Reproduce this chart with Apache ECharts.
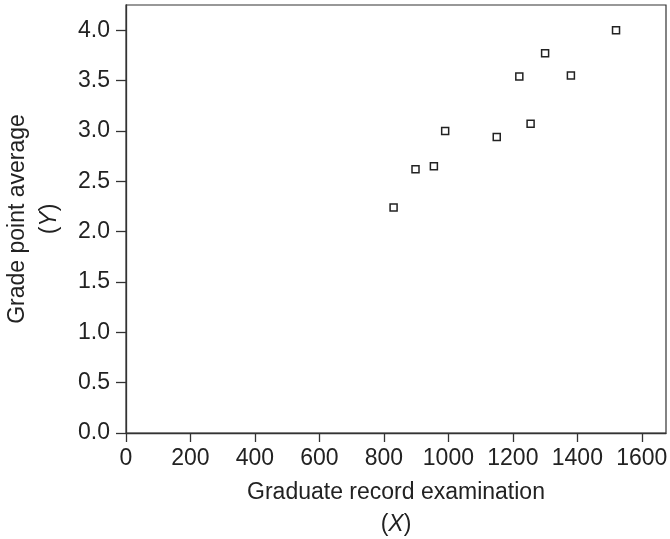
<!DOCTYPE html>
<html>
<head>
<meta charset="utf-8">
<title>GRE vs GPA</title>
<script src="https://cdn.jsdelivr.net/npm/echarts@6/dist/echarts.min.js"></script>
<style>
  html, body { margin: 0; padding: 0; background: #fff; }
  #chart { width: 670px; height: 539px; }
</style>
</head>
<body>
<div id="chart"></div>
<script>
// Graduate record examination scores (X) and grade point averages (Y)
const greScores = [830, 898, 955, 990, 1150, 1220, 1255, 1300, 1380, 1520];
const gpaValues = [2.24, 2.62, 2.65, 3.00, 2.94, 3.54, 3.07, 3.77, 3.55, 4.00];

// Axis tick positions
const xTicks = [0, 200, 400, 600, 800, 1000, 1200, 1400, 1600];
const yTicks = [0.0, 0.5, 1.0, 1.5, 2.0, 2.5, 3.0, 3.5, 4.0];

const FONT = "'Liberation Sans', Arial, Helvetica, sans-serif";
const INK = '#222';
const LINE = '#333';

const points = greScores.map((x, i) => [x, gpaValues[i]]);

const chart = echarts.init(document.getElementById('chart'), null, { renderer: 'canvas' });

chart.setOption({
  animation: false,
  backgroundColor: '#fff',
  grid: {
    left: 126, right: 4, top: 5, bottom: 106,
    show: true,
    borderColor: LINE,
    borderWidth: 1.2,
    outerBoundsMode: 'none',
    containLabel: false
  },
  xAxis: {
    type: 'value',
    min: 0,
    max: 1675,
    splitLine: { show: false },
    axisLine: { show: true, onZero: false, lineStyle: { color: LINE, width: 1.3 } },
    axisTick: {
      show: true, inside: false, length: 9,
      customValues: xTicks,
      lineStyle: { color: LINE, width: 1.3 }
    },
    axisLabel: {
      customValues: xTicks,
      formatter: v => String(v),
      margin: 14,
      color: INK,
      fontSize: 23,
      fontFamily: FONT
    },
    name: 'Graduate record examination\n({i|X})',
    nameLocation: 'middle',
    nameGap: 44,
    nameTextStyle: {
      color: INK, fontSize: 23, fontFamily: FONT, lineHeight: 32,
      rich: { i: { fontStyle: 'italic', fontSize: 23, fontFamily: FONT, color: INK, lineHeight: 32 } }
    }
  },
  yAxis: {
    type: 'value',
    min: 0,
    max: 4.25,
    splitLine: { show: false },
    axisLine: { show: true, onZero: false, lineStyle: { color: LINE, width: 1.3 } },
    axisTick: {
      show: true, inside: false, length: 10,
      customValues: yTicks,
      lineStyle: { color: LINE, width: 1.3 }
    },
    axisLabel: {
      customValues: yTicks,
      formatter: v => v.toFixed(1),
      margin: 16,
      color: INK,
      fontSize: 23,
      fontFamily: FONT
    },
    name: 'Grade point average\n({i|Y})',
    nameLocation: 'middle',
    nameGap: 60,
    nameTextStyle: {
      color: INK, fontSize: 23, fontFamily: FONT, lineHeight: 32,
      rich: { i: { fontStyle: 'italic', fontSize: 23, fontFamily: FONT, color: INK, lineHeight: 32 } }
    }
  },
  series: [{
    type: 'scatter',
    data: points,
    symbol: 'rect',
    symbolSize: 7,
    itemStyle: { color: '#fff', borderColor: INK, borderWidth: 1.5, opacity: 1 },
    emphasis: { disabled: true }
  }]
});
</script>
</body>
</html>
